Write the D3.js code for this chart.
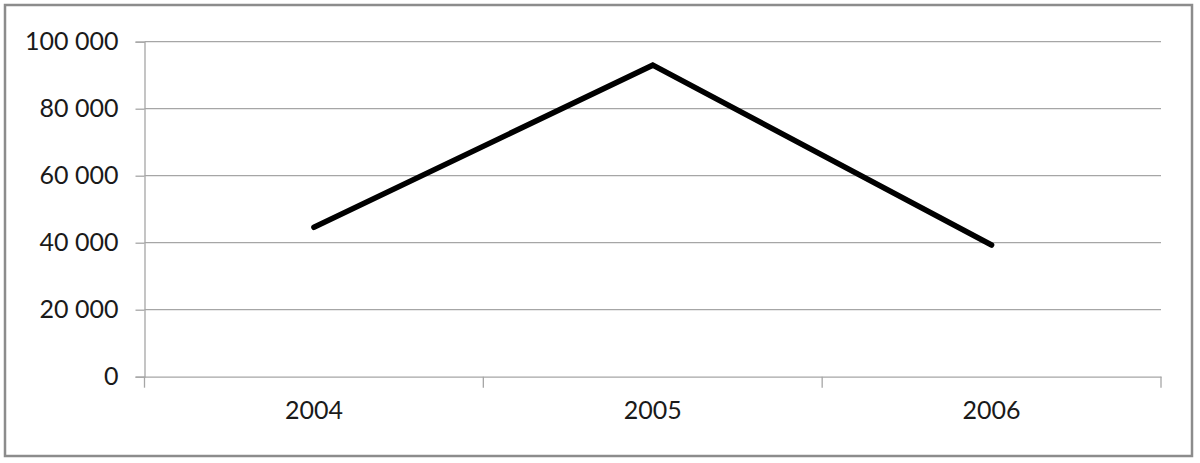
<!DOCTYPE html>
<html><head><meta charset="utf-8">
<script src="https://cdn.jsdelivr.net/npm/d3@7"></script>
<style>body{margin:0;background:#fff}svg{display:block}</style>
</head><body>
<script>
const years = ["2004", "2005", "2006"];
const values = [44600, 93000, 39300];
const yTicks = [0, 20000, 40000, 60000, 80000, 100000];

(function () {
const W = 1200, H = 463;
const svg = d3.select("body").append("svg").attr("width", W).attr("height", H);
svg.append("rect").attr("x", 5).attr("y", 5).attr("width", 1187).attr("height", 451)
  .attr("fill", "#fff").attr("stroke", "#8c8c8c").attr("stroke-width", 2.5);

const mLeft = 144.5, mRight = 1161, mTop = 41.7, mBottom = 376.7;
const x = d3.scaleBand().domain(years).range([mLeft, mRight]);
const y = d3.scaleLinear().domain([0, 100000]).range([mBottom, mTop]);
const fmt = d => d3.format(",")(d).replace(/,/g, " ");
const font = "Lato, 'Open Sans', sans-serif";

// gridlines
svg.append("g").selectAll("line").data(yTicks.filter(d => d > 0)).join("line")
  .attr("x1", mLeft).attr("x2", mRight).attr("y1", d => y(d)).attr("y2", d => y(d))
  .attr("stroke", "#a6a6a6").attr("stroke-width", 1.3);

// y axis
const ya = svg.append("g").attr("transform", `translate(${mLeft},0)`)
  .call(d3.axisLeft(y).tickValues(yTicks).tickFormat(fmt).tickSize(9).tickPadding(17));
ya.select(".domain").attr("stroke", "#a6a6a6").attr("stroke-width", 1.3);
ya.selectAll(".tick line").attr("stroke", "#a6a6a6").attr("stroke-width", 1.3);
ya.selectAll("text").attr("font-family", font).attr("font-size", 25).attr("fill", "#1a1a1a");

// x axis
const xa = svg.append("g").attr("transform", `translate(0,${mBottom})`)
  .call(d3.axisBottom(x).tickSize(0).tickPadding(25));
xa.select(".domain").attr("stroke", "#a6a6a6").attr("stroke-width", 1.3);
xa.selectAll("text").attr("font-family", font).attr("font-size", 25).attr("fill", "#1a1a1a");
const bounds = [mLeft, ...years.map(d => x(d) + x.bandwidth())];
svg.append("g").selectAll("line").data(bounds).join("line")
  .attr("x1", d => d).attr("x2", d => d).attr("y1", mBottom).attr("y2", mBottom + 11)
  .attr("stroke", "#a6a6a6").attr("stroke-width", 1.3);

// line
const line = d3.line().x((d, i) => x(years[i]) + x.bandwidth() / 2).y(d => y(d));
svg.append("path").datum(values).attr("d", line)
  .attr("fill", "none").attr("stroke", "#000").attr("stroke-width", 5.5)
  .attr("stroke-linecap", "round").attr("stroke-linejoin", "miter");
})();
</script>
</body></html>
